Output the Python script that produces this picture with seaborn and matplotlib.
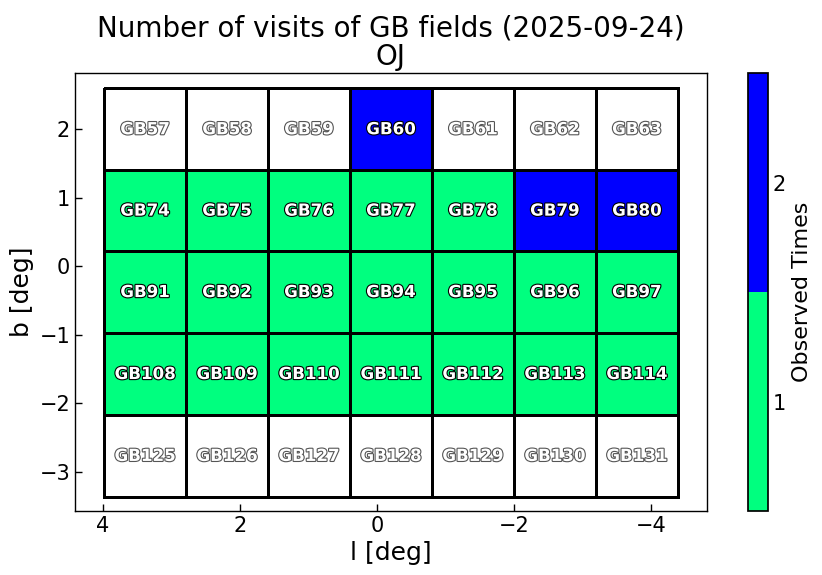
import numpy as np
import matplotlib
matplotlib.use("Agg")
import matplotlib.pyplot as plt
import matplotlib.patheffects as pe
from matplotlib.colors import ListedColormap, Normalize
import seaborn as sns

# ---- data ----
l_edges = [3.985, 2.788, 1.591, 0.394, -0.803, -2.0, -3.197, -4.394]
b_edges = [2.598, 1.402, 0.222, -0.974, -2.169, -3.364]
field_rows = [
    ["GB57", "GB58", "GB59", "GB60", "GB61", "GB62", "GB63"],
    ["GB74", "GB75", "GB76", "GB77", "GB78", "GB79", "GB80"],
    ["GB91", "GB92", "GB93", "GB94", "GB95", "GB96", "GB97"],
    ["GB108", "GB109", "GB110", "GB111", "GB112", "GB113", "GB114"],
    ["GB125", "GB126", "GB127", "GB128", "GB129", "GB130", "GB131"],
]
visits = [
    [0, 0, 0, 2, 0, 0, 0],
    [1, 1, 1, 1, 1, 2, 2],
    [1, 1, 1, 1, 1, 1, 1],
    [1, 1, 1, 1, 1, 1, 1],
    [0, 0, 0, 0, 0, 0, 0],
]
cbar_ticks = [1, 2]
title = "Number of visits of GB fields (2025-09-24)\nOJ"

sns.set_theme(style="white")
plt.rcParams["font.family"] = ["DejaVu Sans"]

fig = plt.figure(figsize=(8.22, 5.75), dpi=100)
ax = fig.add_axes([0.0912, 0.1113, 0.7689, 0.7617])
cax = fig.add_axes([0.91, 0.1113, 0.0243, 0.7617])

counts = np.array(visits, dtype=float)
data = np.ma.masked_where(counts == 0, counts)
cmap = ListedColormap(["#00ff7f", "#0000ff"])
cmap.set_bad("white")
norm = Normalize(vmin=0.5, vmax=2.5)

mesh = ax.pcolormesh(np.array(l_edges), np.array(b_edges), data, cmap=cmap, norm=norm,
                     edgecolors="black", linewidth=2.0)

l_cent = [(l_edges[i] + l_edges[i + 1]) / 2 for i in range(len(l_edges) - 1)]
b_cent = [(b_edges[j] + b_edges[j + 1]) / 2 for j in range(len(b_edges) - 1)]
for j, row in enumerate(field_rows):
    for i, name in enumerate(row):
        observed = visits[j][i] > 0
        ax.text(l_cent[i], b_cent[j], name, ha="center", va="center",
                fontsize=12, fontweight="bold", color="white",
                path_effects=[pe.withStroke(linewidth=1.6,
                                            foreground="black" if observed else "#555555")])

ax.set_xlim(4.41, -4.82)
ax.set_ylim(-3.57, 2.82)
ax.set_xticks([4, 2, 0, -2, -4])
ax.set_yticks([2, 1, 0, -1, -2, -3])
ax.set_xticklabels(["4", "2", "0", "\u22122", "\u22124"])
ax.set_yticklabels(["2", "1", "0", "\u22121", "\u22122", "\u22123"])
ax.tick_params(direction="in", labelsize=15, length=5, width=1, colors="black",
               bottom=True, left=True)
for s in ax.spines.values():
    s.set_color("black")
    s.set_linewidth(1)
ax.set_xlabel("l [deg]", fontsize=18, color="black")
ax.set_ylabel("b [deg]", fontsize=18, color="black")
ax.set_title(title, fontsize=20, color="black", linespacing=1.0)

cb = fig.colorbar(mesh, cax=cax, ticks=cbar_ticks)
cb.ax.tick_params(labelsize=15, length=5, direction="in", colors="black", right=True)
cb.outline.set_edgecolor("black")
cb.set_label("Observed Times", fontsize=16, color="black")

fig.savefig("out.png", dpi=100)
